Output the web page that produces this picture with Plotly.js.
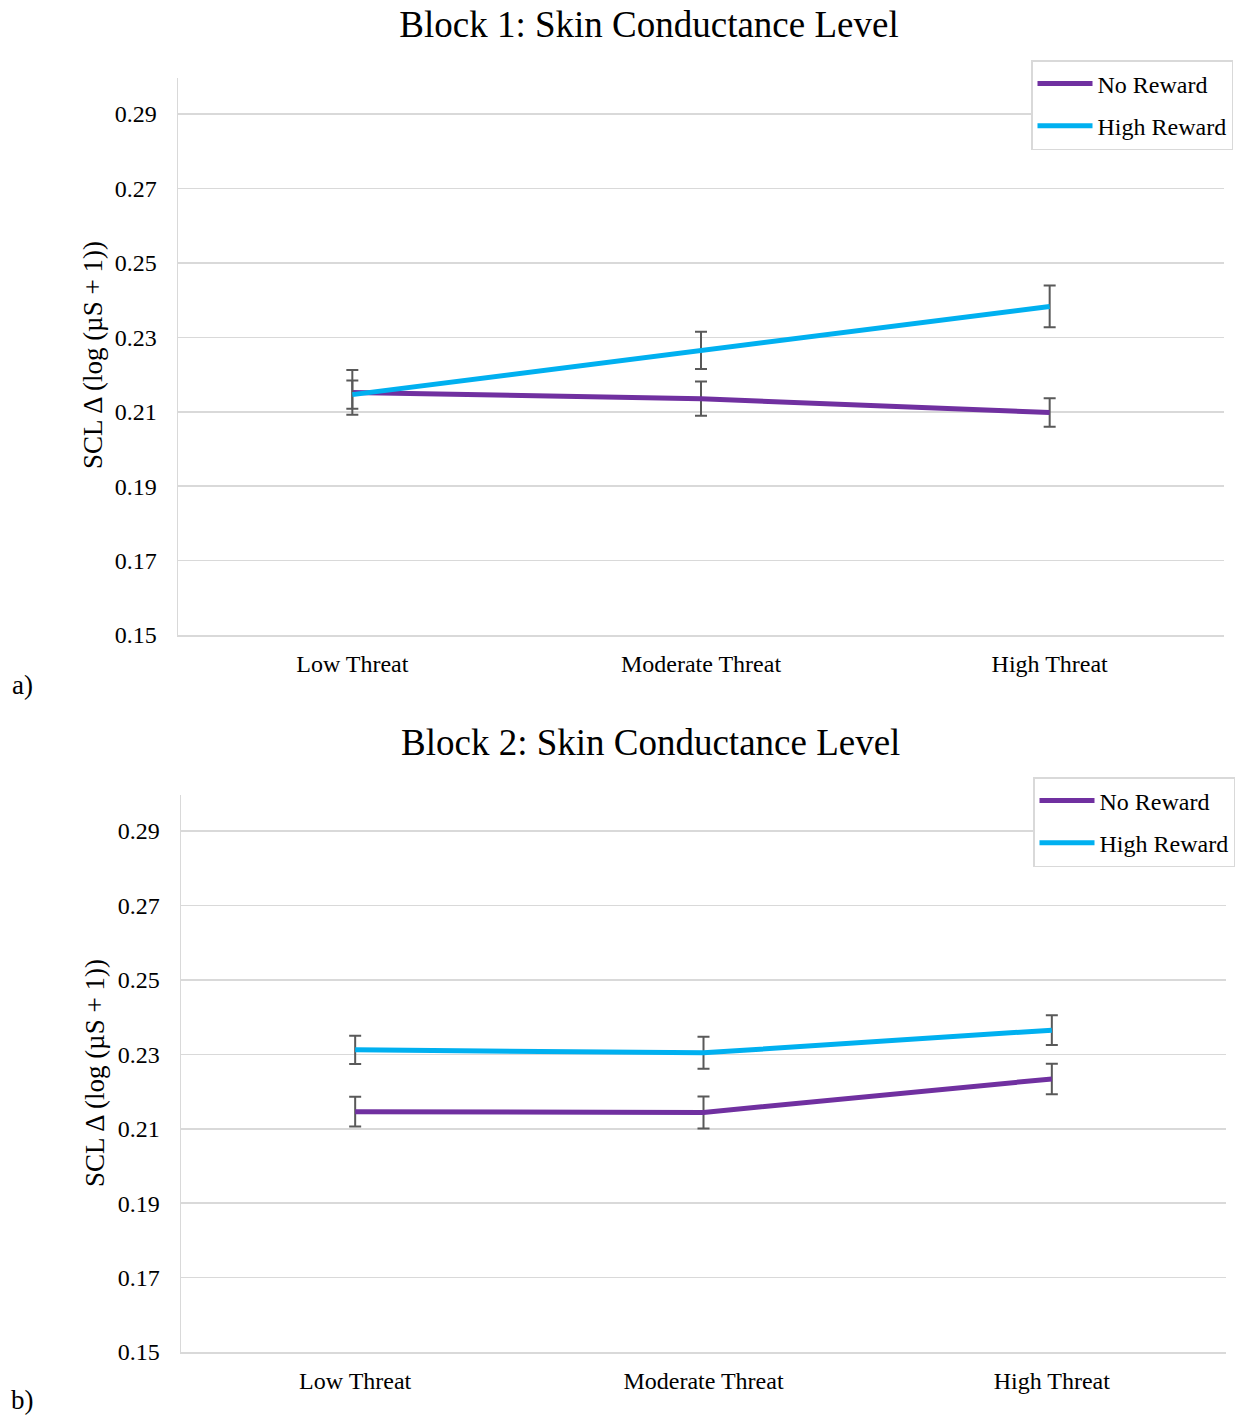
<!DOCTYPE html>
<html>
<head>
<meta charset="utf-8">
<script src="https://cdn.plot.ly/plotly-3.0.1.min.js"></script>
<style>html,body{margin:0;padding:0;background:#fff;}#chart{width:1238px;height:1421px;}</style>
</head>
<body>
<div id="chart"></div>
<script>
const categories = ["Low Threat", "Moderate Threat", "High Threat"];
const seriesNames = ["No Reward", "High Reward"];
// Block 1
const block1NoReward = [0.2152, 0.2135, 0.2098];
const block1NoRewardErr = [0.0060, 0.0046, 0.0038];
const block1HighReward = [0.2146, 0.2265, 0.2383];
const block1HighRewardErr = [0.0038, 0.0050, 0.0056];
// Block 2
const block2NoReward = [0.2146, 0.2144, 0.2234];
const block2NoRewardErr = [0.0040, 0.0043, 0.0041];
const block2HighReward = [0.2312, 0.2304, 0.2365];
const block2HighRewardErr = [0.0038, 0.0043, 0.0040];
const yTicks = [0.15, 0.17, 0.19, 0.21, 0.23, 0.25, 0.27, 0.29];
const titles = ["Block 1: Skin Conductance Level", "Block 2: Skin Conductance Level"];
const yTitle = "SCL Δ (log (µS + 1))";

const purple = "#7030A0", blue = "#00B0F0", errCol = "#595959", gridCol = "#d9d9d9";
const FONT = "Times New Roman, Liberation Serif, serif";
const W = 1238, H = 1421;

function tr(y, err, name, color, xa, ya, leg) {
  return {
    x: categories, y: y, name: name, type: "scatter", mode: "lines",
    xaxis: xa, yaxis: ya, legend: leg, legendgroup: name + leg,
    line: {color: color, width: 5},
    error_y: {type: "data", array: err, visible: true, color: errCol, thickness: 2, width: 6}
  };
}

const data = [
  tr(block1NoReward, block1NoRewardErr, seriesNames[0], purple, "x", "y", "legend"),
  tr(block1HighReward, block1HighRewardErr, seriesNames[1], blue, "x", "y", "legend"),
  tr(block2NoReward, block2NoRewardErr, seriesNames[0], purple, "x2", "y2", "legend2"),
  tr(block2HighReward, block2HighRewardErr, seriesNames[1], blue, "x2", "y2", "legend2")
];

function xax(l, r, anchor) {
  return {domain: [l / W, r / W], anchor: anchor, type: "category", range: [-0.5, 2.5],
    showline: true, linecolor: gridCol, linewidth: 1.5, showgrid: false, zeroline: false,
    ticks: "", ticklabelstandoff: 7, tickfont: {family: FONT, size: 24, color: "#000"}, fixedrange: true};
}
function yax(top, bottom, anchor) {
  return {domain: [(H - bottom) / H, (H - top) / H], anchor: anchor, range: [0.15, 0.2997],
    tickvals: yTicks, tickformat: ".2f", showgrid: true, gridcolor: gridCol, gridwidth: 1.5,
    showline: true, linecolor: gridCol, linewidth: 1.5, zeroline: false, ticks: "",
    ticklabelstandoff: 15, tickfont: {family: FONT, size: 24, color: "#000"}, fixedrange: true};
}
function leg(x, y) {
  return {x: x / W, y: (H - y) / H, xanchor: "left", yanchor: "top", xref: "paper", yref: "paper",
    bordercolor: gridCol, borderwidth: 1.5, bgcolor: "#fff", itemwidth: 55, tracegroupgap: 8,
    traceorder: "grouped", font: {family: FONT, size: 24, color: "#000"}};
}

const layout = {
  width: W, height: H, margin: {l: 0, r: 0, t: 0, b: 0},
  paper_bgcolor: "#fff", plot_bgcolor: "#fff", showlegend: true,
  title: {text: titles[0], x: 649 / W, y: (H - 24) / H, xanchor: "center", yanchor: "middle",
    xref: "paper", yref: "paper", font: {family: FONT, size: 37, color: "#000"}},
  xaxis: xax(178, 1224, "y"),
  yaxis: yax(78, 635, "x"),
  xaxis2: xax(181, 1226, "y2"),
  yaxis2: yax(795, 1352, "x2"),
  legend: leg(1031, 60),
  legend2: leg(1033, 777),
  annotations: [
    {text: titles[1], x: 650 / W, y: (H - 742) / H, xref: "paper", yref: "paper", showarrow: false,
      xanchor: "center", yanchor: "middle", font: {family: FONT, size: 37, color: "#000"}},
    {text: yTitle, x: 93 / W, y: (H - 355) / H, xref: "paper", yref: "paper", showarrow: false,
      textangle: -90, xanchor: "center", yanchor: "middle", font: {family: FONT, size: 27, color: "#000"}},
    {text: yTitle, x: 95 / W, y: (H - 1073) / H, xref: "paper", yref: "paper", showarrow: false,
      textangle: -90, xanchor: "center", yanchor: "middle", font: {family: FONT, size: 27, color: "#000"}},
    {text: "a)", x: 22 / W, y: (H - 685) / H, xref: "paper", yref: "paper", showarrow: false,
      xanchor: "center", yanchor: "middle", font: {family: FONT, size: 27, color: "#000"}},
    {text: "b)", x: 22 / W, y: (H - 1400) / H, xref: "paper", yref: "paper", showarrow: false,
      xanchor: "center", yanchor: "middle", font: {family: FONT, size: 27, color: "#000"}}
  ]
};

Plotly.newPlot("chart", data, layout, {displayModeBar: false, staticPlot: true});
</script>
</body>
</html>
